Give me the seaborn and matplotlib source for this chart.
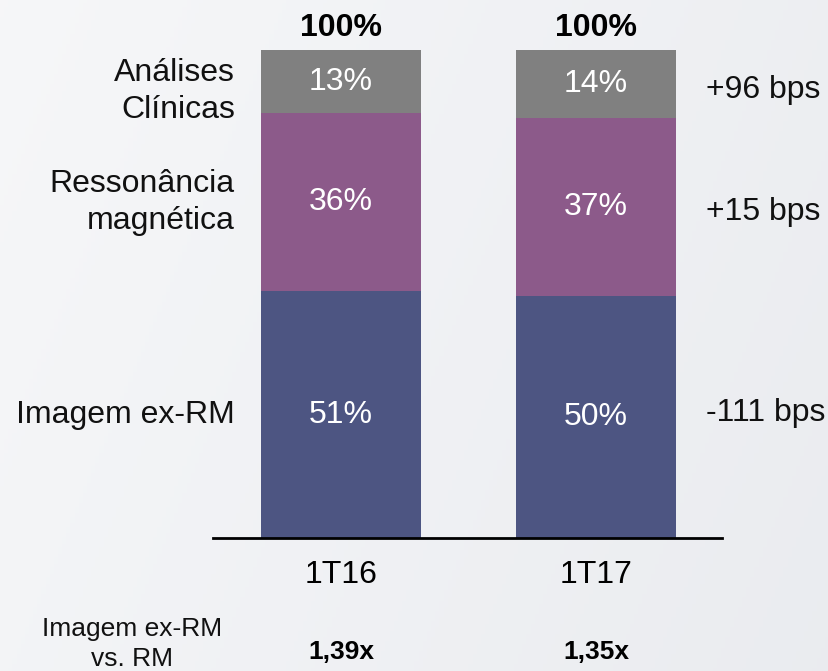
import numpy as np
import pandas as pd
import matplotlib
matplotlib.use("Agg")
import matplotlib.pyplot as plt
import seaborn as sns

# ---- data ----
periods = ["1T16", "1T17"]
imagem_ex_rm = [50.60, 49.49]
ressonancia = [36.45, 36.60]
analises = [12.95, 13.91]
seg_labels_bottom = ["51%", "50%"]
seg_labels_mid = ["36%", "37%"]
seg_labels_top = ["13%", "14%"]
totals = ["100%", "100%"]
segment_names = ["Imagem ex-RM", "Ressonância\nmagnética", "Análises\nClínicas"]
bps_changes = ["-111 bps", "+15 bps", "+96 bps"]
ratio_title = "Imagem ex-RM\nvs. RM"
ratios = ["1,39x", "1,35x"]

colors = ["#4D5582", "#8C5A8A", "#808080"]

sns.set_theme(style="white")
plt.rcParams["font.family"] = ["Liberation Sans", "DejaVu Sans"]

W, H = 829, 671
fig = plt.figure(figsize=(W / 100, H / 100), dpi=100)

# subtle background gradient
bg = fig.add_axes([0, 0, 1, 1], zorder=-10)
xx = np.linspace(0, 1, 200)
yy = np.linspace(0, 1, 200)
X, Y = np.meshgrid(xx, yy)
t = 0.75 * X + 0.25 * Y
c0 = np.array([0.965, 0.968, 0.975])
c1 = np.array([0.918, 0.925, 0.940])
img = c0[None, None, :] * (1 - t[..., None]) + c1[None, None, :] * t[..., None]
bg.imshow(img, aspect="auto", extent=[0, 1, 0, 1], origin="upper")
bg.axis("off")

ax = fig.add_axes([213 / W, (H - 538) / H, 509 / W, 488 / H])
ax.patch.set_alpha(0)

df = pd.DataFrame({
    "period": periods,
    "blue": imagem_ex_rm,
    "purple": ressonancia,
    "gray": analises,
})
df["cum_blue"] = df["blue"]
df["cum_purple"] = df["blue"] + df["purple"]
df["cum_gray"] = df["cum_purple"] + df["gray"]

bw = 0.624
for col, c in zip(["cum_gray", "cum_purple", "cum_blue"], colors[::-1]):
    sns.barplot(data=df, x="period", y=col, color=c, width=bw, ax=ax,
                saturation=1, edgecolor="none", linewidth=0, errorbar=None)

ax.set_xlim(-0.502, 1.494)
ax.set_ylim(0, 100)
ax.set_xlabel("")
ax.set_ylabel("")
ax.set_xticks([])
ax.set_yticks([])
for s in ["top", "left", "right"]:
    ax.spines[s].set_visible(False)
ax.spines["bottom"].set_color("black")
ax.spines["bottom"].set_linewidth(2)

fs = 23
# segment value labels
for i in range(len(periods)):
    b = df["blue"][i]
    p = df["purple"][i]
    g = df["gray"][i]
    ax.text(i, b / 2, seg_labels_bottom[i], ha="center", va="center",
            color="white", fontsize=fs)
    ax.text(i, b + p / 2, seg_labels_mid[i], ha="center", va="center",
            color="white", fontsize=fs)
    ax.text(i, b + p + g / 2, seg_labels_top[i], ha="center", va="center",
            color="white", fontsize=fs)
    ax.text(i, 104.5, totals[i], ha="center", va="center", color="black",
            fontsize=fs, fontweight="bold", clip_on=False)
    ax.text(i, -7.6, periods[i], ha="center", va="center", color="black",
            fontsize=fs, clip_on=False)
    ax.text(i, -23.4, ratios[i], ha="center", va="center", color="black",
            fontsize=19, fontweight="bold", clip_on=False)

# left segment names (aligned with first bar segments)
b0, p0, g0 = df["blue"][0], df["purple"][0], df["gray"][0]
left_y = [b0 / 2, b0 + p0 / 2, b0 + p0 + g0 / 2 - 2.0]
for name, y in zip(segment_names, left_y):
    ax.text(-0.416, y, name, ha="right", va="center", color="#111111",
            fontsize=fs, linespacing=1.3, clip_on=False)

# right bps changes (aligned with second bar segments)
b1, p1, g1 = df["blue"][1], df["purple"][1], df["gray"][1]
right_y = [b1 / 2 + 0.9, b1 + p1 / 2 - 1.0, b1 + p1 + g1 / 2 - 1.2]
for lab, y in zip(bps_changes, right_y):
    ax.text(1.431, y, lab, ha="left", va="center", color="#111111",
            fontsize=fs, clip_on=False)

ax.text(-0.82, -21.7, ratio_title, ha="center", va="center", color="#111111",
        fontsize=19, linespacing=1.3, clip_on=False)

fig.savefig("out.png", dpi=100)
